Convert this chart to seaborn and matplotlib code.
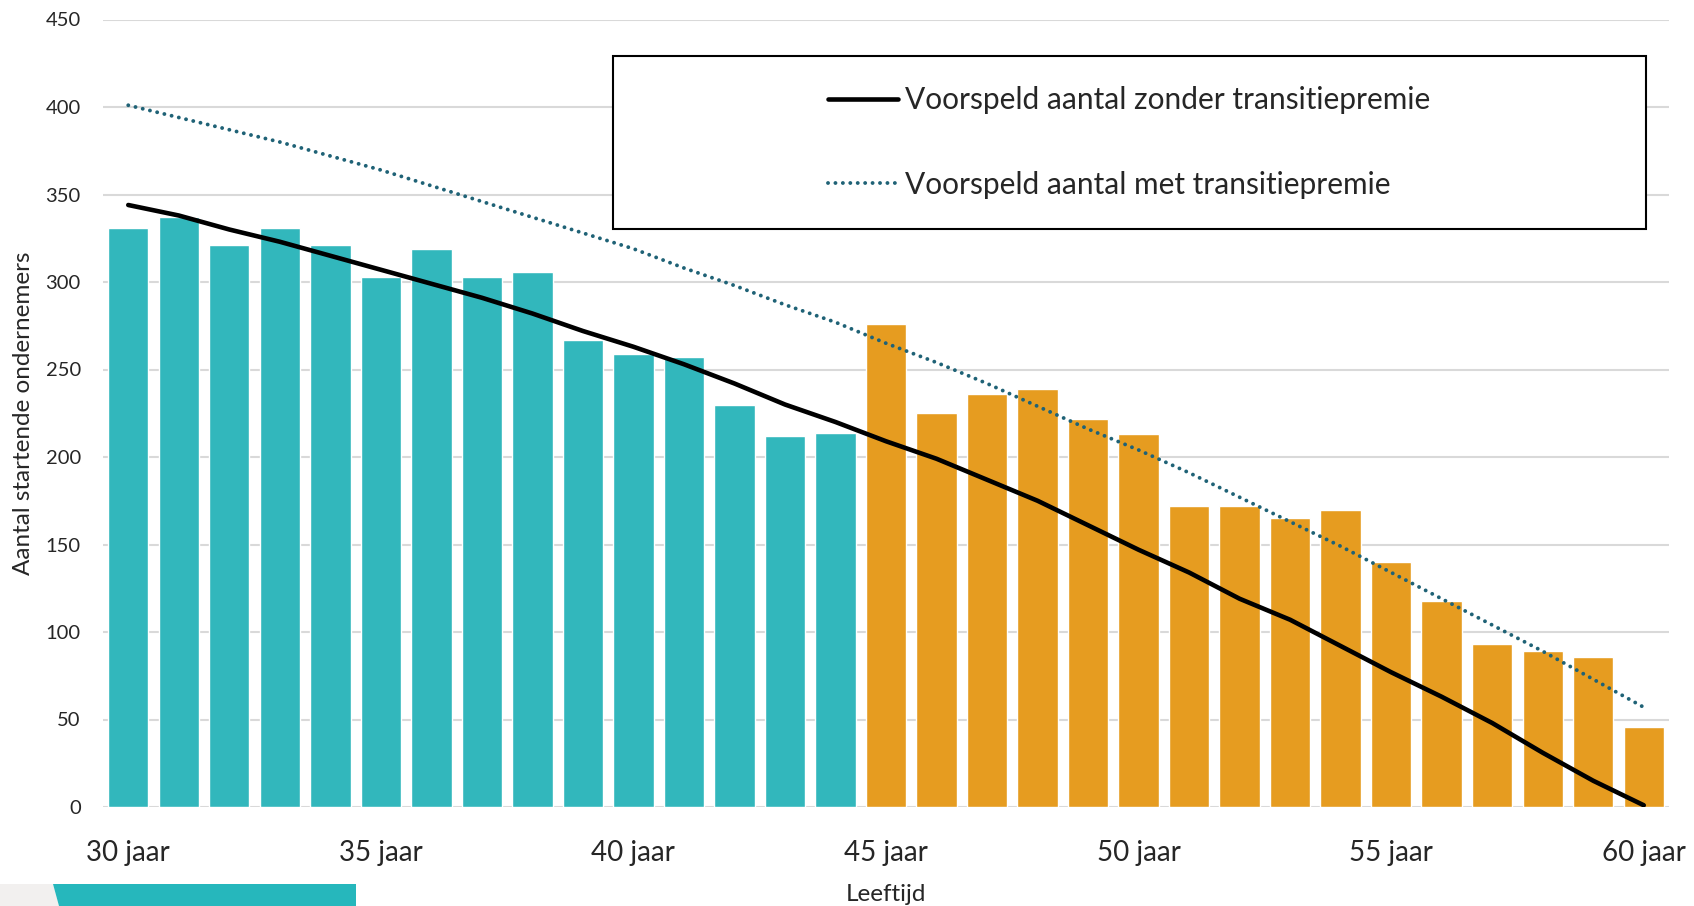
import matplotlib
matplotlib.use("Agg")
import matplotlib.pyplot as plt
from matplotlib.patches import Rectangle, Polygon
import seaborn as sns
import pandas as pd

# --- DATA ---
ages = list(range(30, 61))
starters = [331, 337, 321, 331, 321, 303, 319, 303, 306, 267,
            259, 257, 230, 212, 214,
            276, 225, 236, 239, 222, 213, 172, 172, 165, 170,
            140, 118, 93, 89, 86, 46]
groups = ["jong"] * 15 + ["oud"] * 16
zonder_premie = [344, 338, 330, 323, 315, 307, 299, 291, 282, 272,
                 263, 253, 242, 230, 220, 209, 199, 187, 175, 161,
                 147, 134, 119, 107, 92, 77, 63, 48, 31, 15, 1]
met_premie = [401, 394, 387, 380, 372, 364, 355, 346, 337, 328,
              319, 308, 298, 287, 277, 265, 254, 242, 229, 216,
              204, 191, 177, 163, 149, 134, 119, 104, 89, 73, 57]
tick_ages = [30, 35, 40, 45, 50, 55, 60]
tick_labels = [f"{a} jaar" for a in tick_ages]

TEAL = "#32B7BC"
ORANGE = "#E69C20"
DOT_COLOR = "#1F6276"

df = pd.DataFrame({"leeftijd": ages, "aantal": starters, "groep": groups})

sns.set_theme(style="white")
plt.rcParams["font.family"] = ["Lato", "DejaVu Sans"]

fig = plt.figure(figsize=(16.94, 9.06), dpi=100)
ax = fig.add_axes([103 / 1694, 1 - 807 / 906, 1566 / 1694, 787.5 / 906])

sns.barplot(data=df, x="leeftijd", y="aantal", hue="groep",
            palette={"jong": TEAL, "oud": ORANGE}, native_scale=True,
            width=0.8, saturation=1, dodge=False, legend=False, ax=ax)

sns.lineplot(x=ages, y=zonder_premie, color="black", lw=3.3,
             label="Voorspeld aantal zonder transitiepremie", ax=ax, zorder=4)
sns.lineplot(x=ages, y=met_premie, color=DOT_COLOR, lw=2.8,
             linestyle=(0, (0.01, 1.9)), dash_capstyle="round",
             label="Voorspeld aantal met transitiepremie", ax=ax, zorder=4)

ax.set_xlim(29.5, 60.5)
ax.set_ylim(0, 450)
ax.set_yticks(range(0, 451, 50))
ax.set_xticks(tick_ages)
ax.set_xticklabels(tick_labels)
ax.tick_params(axis="y", labelsize=14.5, length=0, pad=16)
ax.tick_params(axis="x", labelsize=20, length=0, pad=24)
ax.yaxis.grid(True, color="#D9D9D9", lw=1.5)
ax.set_axisbelow(True)
for s in ax.spines.values():
    s.set_visible(False)

ax.set_xlabel("Leeftijd", fontsize=17.5, labelpad=13)
ax.set_ylabel("Aantal startende ondernemers", fontsize=17.5, labelpad=8)

# legend in a framed box
box = Rectangle((0.3257, 0.734), 0.6593, 0.2197, transform=ax.transAxes,
                facecolor="white", edgecolor="black", lw=1.5, zorder=5)
ax.add_patch(box)
handles, labels = ax.get_legend_handles_labels()
leg = ax.legend(handles, labels, loc="center",
                bbox_to_anchor=(0.3257 + 0.6593 / 2, 0.734 + 0.2197 / 2),
                frameon=False, fontsize=21.5, handlelength=2.35,
                handletextpad=0.25, labelspacing=1.9)
leg.set_zorder(6)

# decorative strip at the bottom left
fig.patches.append(Polygon([(0, 22 / 906), (53 / 1694, 22 / 906), (59 / 1694, 0), (0, 0)],
                           closed=True, transform=fig.transFigure,
                           facecolor="#F2F0EF", edgecolor="none"))
fig.patches.append(Polygon([(53 / 1694, 22 / 906), (356 / 1694, 22 / 906),
                            (356 / 1694, 0), (59 / 1694, 0)],
                           closed=True, transform=fig.transFigure,
                           facecolor="#26B7BC", edgecolor="none"))

fig.savefig("out.png", dpi=100)
